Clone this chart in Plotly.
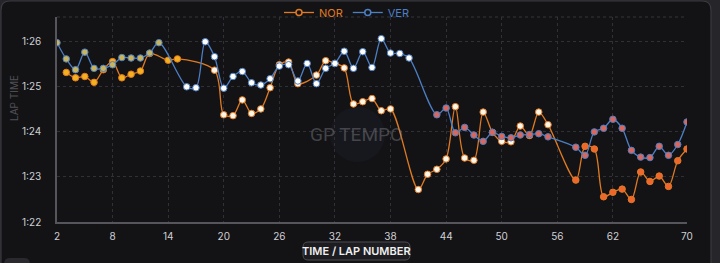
import plotly.graph_objects as go

# ---------------- data ----------------
nor_laps = [3, 4, 5, 6, 7, 8, 9, 10, 11, 12, 14, 15,
            19, 20, 21, 22, 23, 24, 25, 26, 27, 28, 30, 31, 32, 33, 34, 35, 36, 37, 38,
            41, 42, 43, 44, 45, 46, 47, 48, 49, 50, 51, 52, 53, 54, 55,
            58, 59, 60, 61, 62, 63, 64, 65, 66, 67, 68, 69, 70]
nor_times = [85.32, 85.20, 85.23, 85.10, 85.38, 85.56, 85.20, 85.28, 85.35, 85.74, 85.59, 85.62,
             85.37, 84.38, 84.36, 84.71, 84.41, 84.51, 84.98, 85.49, 85.55, 85.07, 85.26, 85.58, 85.52,
             85.42, 84.62, 84.67, 84.74, 84.47, 84.51,
             82.72, 83.06, 83.17, 83.40, 84.56, 83.42, 83.37, 84.44, 83.99, 83.79, 83.78, 84.13, 83.92,
             84.44, 84.16,
             82.93, 83.68, 83.62, 82.56, 82.66, 82.73, 82.50, 83.11, 82.90, 83.02, 82.79, 83.36, 83.62]
nor_stint = ["M"] * 12 + ["H"] * 34 + ["S"] * 13

ver_laps = [2, 3, 4, 5, 6, 7, 8, 9, 10, 11, 12, 13,
            16, 17, 18, 19, 20, 21, 22, 23, 24, 25, 26, 27, 28, 29, 30, 31, 32, 33, 34, 35, 36, 37,
            38, 39, 40,
            43, 44, 45, 46, 47, 48, 49, 50, 51, 52, 53, 54, 55,
            58, 59, 60, 61, 62, 63, 64, 65, 66, 67, 68, 69, 70]
ver_times = [85.98, 85.62, 85.38, 85.77, 85.41, 85.41, 85.49, 85.65, 85.64, 85.64, 85.75, 85.98,
             85.00, 84.98, 86.00, 85.67, 84.97, 85.23, 85.34, 85.09, 85.04, 85.18, 85.46, 85.49,
             85.13, 85.52, 85.07, 85.41, 85.52, 85.79, 85.41, 85.78, 85.43, 86.07, 85.75, 85.74, 85.64,
             84.38, 84.53, 83.98, 84.10, 83.93, 83.79, 83.99, 83.90, 83.87, 83.93, 83.94, 83.96, 83.89,
             83.66, 83.48, 84.00, 84.08, 84.28, 84.08, 83.59, 83.44, 83.43, 83.68, 83.48, 83.72, 84.22]
ver_stint = ["M"] * 12 + ["H"] * 25 + ["S"] * 26

y_tick_vals = [82, 83, 84, 85, 86]
y_tick_text = ["1:22", "1:23", "1:24", "1:25", "1:26"]
x_tick_vals = [2, 8, 14, 20, 26, 32, 38, 44, 50, 56, 62, 70]

# ---------------- styles ----------------
NOR_LINE = "#e07a22"
VER_LINE = "#4d7fc4"
nor_fill = {"M": "#f3b01f", "H": "#fff6ea", "S": "#f0672e"}
ver_fill = {"M": "#c9b45e", "H": "#ffffff", "S": "#d8675f"}
BG = "#131316"

W, H = 720, 263
L, R, T, B = 57, 33, 17, 41
PW, PH = W - L - R, H - T - B


def px(x):
    return (x - L) / PW


def py(y):
    return 1 - (y - T) / PH


def rrect(x0, y0, x1, y1, r):
    X0, X1 = px(x0), px(x1)
    Y0, Y1 = py(y0), py(y1)
    rx, ry = r / PW, r / PH
    return (f"M {X0+rx},{Y0} L {X1-rx},{Y0} Q {X1},{Y0} {X1},{Y0-ry} "
            f"L {X1},{Y1+ry} Q {X1},{Y1} {X1-rx},{Y1} L {X0+rx},{Y1} "
            f"Q {X0},{Y1} {X0},{Y1+ry} L {X0},{Y0-ry} Q {X0},{Y0} {X0+rx},{Y0} Z")


fig = go.Figure()

fig.add_trace(go.Scatter(
    x=nor_laps, y=nor_times, mode="lines+markers", showlegend=False,
    line=dict(color=NOR_LINE, width=1.3, shape="spline", smoothing=0.9),
    marker=dict(size=6.5, color=[nor_fill[s] for s in nor_stint],
                line=dict(color=NOR_LINE, width=1)),
))
fig.add_trace(go.Scatter(
    x=ver_laps, y=ver_times, mode="lines+markers", showlegend=False,
    line=dict(color=VER_LINE, width=1.3, shape="spline", smoothing=0.9),
    marker=dict(size=6.5, color=[ver_fill[s] for s in ver_stint],
                line=dict(color=VER_LINE, width=1)),
))
# legend entries
for name, col in [("NOR", NOR_LINE), ("VER", VER_LINE)]:
    fig.add_trace(go.Scatter(
        x=[None], y=[None], mode="lines+markers",
        name=f"<span style='color:{col}'>{name}</span>",
        line=dict(color=col, width=1.3),
        marker=dict(size=6, color=BG, line=dict(color=col, width=1.5)),
    ))

shapes = [
    # card
    dict(type="path", xref="paper", yref="paper", path=rrect(1, 1, 711, 275, 9),
         fillcolor=BG, line=dict(color="#3a3a3f", width=1.2), layer="below"),
    # watermark circle
    dict(type="circle", xref="paper", yref="paper",
         x0=px(330), x1=px(385), y0=py(162), y1=py(107),
         fillcolor="rgba(30,40,50,0.25)", line=dict(width=0), layer="below"),
    # top dashed border
    dict(type="line", xref="paper", yref="paper", x0=0, x1=1, y0=1, y1=1,
         line=dict(color="#34343a", width=1, dash="dot")),
    # x-title pill
    dict(type="path", xref="paper", yref="paper", path=rrect(303, 242, 410, 260, 5),
         fillcolor="#1d1d21", line=dict(color="#4a4a50", width=1)),
    # toggle in corner
    dict(type="path", xref="paper", yref="paper", path=rrect(4, 258, 30, 270, 6),
         fillcolor="#2a2a2e", line=dict(width=0)),
]

annotations = [
    dict(text="TIME / LAP NUMBER", xref="paper", yref="paper", x=px(356.5), y=py(251),
         showarrow=False, font=dict(color="#f0f0f0", size=11, family="Inter", weight=600),
         xanchor="center", yanchor="middle"),
    dict(text="LAP TIME", xref="paper", yref="paper", x=px(14), y=py(98),
         showarrow=False, textangle=-90, font=dict(color="#505055", size=10, family="Inter"),
         xanchor="center", yanchor="middle"),
    dict(text="GP TEMPO", xref="paper", yref="paper", x=px(356), y=py(134),
         showarrow=False, font=dict(color="rgba(130,130,135,0.45)", size=19, family="Roboto"),
         xanchor="center", yanchor="middle"),
]

fig.update_layout(
    width=W, height=H,
    margin=dict(l=L, r=R, t=T, b=B, autoexpand=False),
    paper_bgcolor="#25252a", plot_bgcolor="rgba(0,0,0,0)",
    font=dict(family="Inter", color="#cfcfd4", size=10),
    shapes=shapes, annotations=annotations,
    legend=dict(orientation="h", x=px(347), xanchor="center",
                y=py(-2), yanchor="top",
                font=dict(size=11, family="Inter"), bgcolor="rgba(0,0,0,0)",
                itemwidth=30, tracegroupgap=0),
    xaxis=dict(range=[2, 70], tickvals=x_tick_vals, showgrid=True,
               gridcolor="#303036", griddash="dot", gridwidth=1,
               showline=True, linecolor="#55555b", linewidth=1.5,
               zeroline=False, ticks="", ticklabelstandoff=4,
               tickfont=dict(size=10, color="#d0d0d5")),
    yaxis=dict(range=[82, 86.55], tickvals=y_tick_vals, ticktext=y_tick_text, showgrid=True,
               gridcolor="#303036", griddash="dot", gridwidth=1,
               showline=True, linecolor="#55555b", linewidth=1.5,
               zeroline=False, ticks="", ticklabelstandoff=12,
               tickfont=dict(size=10, color="#d0d0d5")),
)

fig.write_html("out.html")
